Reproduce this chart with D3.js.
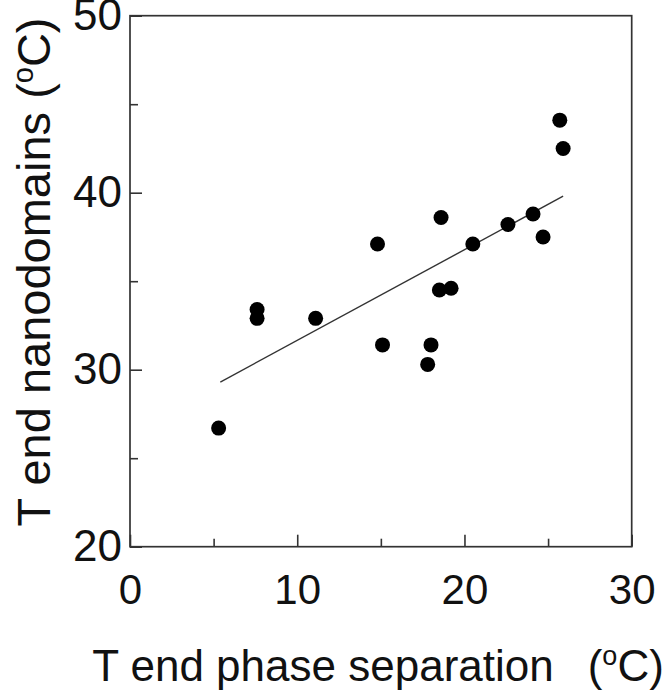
<!DOCTYPE html>
<html>
<head>
<meta charset="utf-8">
<script src="https://cdn.jsdelivr.net/npm/d3@7"></script>
<style>
  body { margin: 0; background: #fff; }
  svg text { font-family: 'Liberation Sans', Arial, sans-serif; fill: #111; }
</style>
</head>
<body>
<svg id="chart"></svg>
<script>
// values
const xValues = [5.3, 7.6, 7.6, 11.1, 14.8, 15.1, 17.8, 18.0, 18.6, 18.5, 19.2, 20.5, 22.6, 24.1, 24.7, 25.7, 25.9];
const yValues = [26.7, 33.4, 32.9, 32.9, 37.1, 31.4, 30.3, 31.4, 38.6, 34.5, 34.6, 37.1, 38.2, 38.8, 37.5, 44.1, 42.5];
const fitX = [5.4, 25.9];
const fitY = [29.3, 39.8];
const xMajorTicks = [0, 10, 20, 30];
const xMinorTicks = [5, 15, 25];
const yMajorTicks = [20, 30, 40, 50];
const yMinorTicks = [25, 35, 45];

const W = 667, H = 695;
const margin = { top: 15.7, right: 35.3, bottom: 148.3, left: 130 };
const width = W - margin.left - margin.right;
const height = H - margin.top - margin.bottom;

const svg = d3.select('#chart')
  .attr('width', W)
  .attr('height', H);

const g = svg.append('g')
  .attr('transform', `translate(${margin.left},${margin.top})`);

const x = d3.scaleLinear().domain([0, 30]).range([0, width]);
const y = d3.scaleLinear().domain([20, 50]).range([height, 0]);

// X axis, ticks pointing inward
g.append('g')
  .attr('class', 'x-axis')
  .attr('transform', `translate(0,${height})`)
  .call(d3.axisBottom(x).tickValues(xMajorTicks).tickSizeInner(-12).tickSizeOuter(0).tickPadding(27));
g.append('g')
  .attr('transform', `translate(0,${height})`)
  .call(d3.axisBottom(x).tickValues(xMinorTicks).tickSizeInner(-8).tickSizeOuter(0).tickFormat(() => ''));

// Y axis
g.append('g')
  .attr('class', 'y-axis')
  .call(d3.axisLeft(y).tickValues(yMajorTicks).tickSizeInner(-12).tickSizeOuter(0).tickPadding(8));
g.append('g')
  .call(d3.axisLeft(y).tickValues(yMinorTicks).tickSizeInner(-8).tickSizeOuter(0).tickFormat(() => ''));

g.selectAll('.domain').remove();
g.selectAll('.tick line').attr('stroke', '#333').attr('stroke-width', 1.6);
g.selectAll('.x-axis .tick text').style('font-size', '42px').attr('fill', '#111');
g.selectAll('.y-axis .tick text').style('font-size', '44px').attr('fill', '#111');

// frame
g.append('rect')
  .attr('width', width)
  .attr('height', height)
  .attr('fill', 'none')
  .attr('stroke', '#333')
  .attr('stroke-width', 1.7);

// regression line
const line = d3.line()
  .x(d => x(d[0]))
  .y(d => y(d[1]));
g.append('path')
  .datum(fitX.map((d, i) => [d, fitY[i]]))
  .attr('d', line)
  .attr('fill', 'none')
  .attr('stroke', '#333')
  .attr('stroke-width', 1.4);

// points
g.selectAll('.dot')
  .data(xValues)
  .enter()
  .append('circle')
  .attr('class', 'dot')
  .attr('cx', d => x(d))
  .attr('cy', (d, i) => y(yValues[i]))
  .attr('r', 7.5)
  .attr('fill', '#000');

// axis titles
const xTitle = svg.append('text')
  .attr('x', 378)
  .attr('y', 681)
  .attr('text-anchor', 'middle')
  .style('font-size', '44px');
xTitle.append('tspan').text('T end phase separation');
xTitle.append('tspan').attr('dx', 34).text('(');
xTitle.append('tspan').attr('dy', -16).style('font-size', '27px').text('o');
xTitle.append('tspan').attr('dy', 16).text('C)');

const yTitle = svg.append('text')
  .attr('transform', 'translate(50,272) rotate(-90)')
  .attr('text-anchor', 'middle')
  .style('font-size', '47px');
yTitle.append('tspan').text('T end nanodomains (');
yTitle.append('tspan').attr('dy', -17).style('font-size', '29px').text('o');
yTitle.append('tspan').attr('dy', 17).text('C)');
</script>
</body>
</html>
